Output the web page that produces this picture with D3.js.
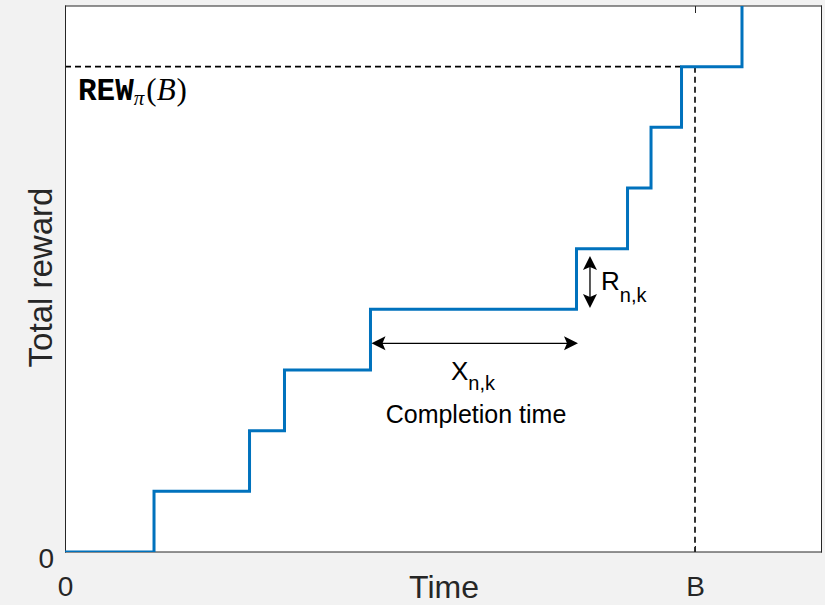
<!DOCTYPE html>
<html><head><meta charset="utf-8">
<script src="https://cdn.jsdelivr.net/npm/d3@7"></script>
<style>html,body{margin:0;padding:0;background:#f2f2f2;}svg{display:block;}</style>
</head><body>
<script>
// Data
const jumpTimes = [0, 14.13, 29.29, 34.84, 48.49, 81.19, 89.29, 93.02, 97.86, 107.46];
const rewardLevels = [0, 1, 2, 3, 4, 5, 6, 7, 8, 10];
const xTickValues = [0, 100];
const xTickLabels = ["0", "B"];
const yTickValues = [0];
const yTickLabels = ["0"];
const budgetB = 100;
const rewAtB = 8;
const xDomain = [0, 120];
const yDomain = [0, 9];

const W = 825, H = 605;
const svg = d3.select("body").append("svg").attr("width", W).attr("height", H);
svg.append("rect").attr("width", W).attr("height", H).attr("fill", "#f2f2f2");

const x = d3.scaleLinear().domain(xDomain).range([65, 821]);
const y = d3.scaleLinear().domain(yDomain).range([552, 6]);

svg.append("rect").attr("x", 65).attr("y", 6).attr("width", 756).attr("height", 546).attr("fill", "#fff");

const defs = svg.append("defs");
defs.append("clipPath").attr("id", "clip").append("rect")
  .attr("x", 65).attr("y", 6).attr("width", 756).attr("height", 546);

const txt = "#262626";
const sans = "'Liberation Sans', Arial, Helvetica, sans-serif";

// dashed guides
svg.append("line").attr("x1", x(0)).attr("x2", x(jumpTimes[8]))
  .attr("y1", y(rewAtB)).attr("y2", y(rewAtB))
  .attr("stroke", "#000").attr("stroke-width", 1.6).attr("stroke-dasharray", "6,4");
svg.append("line").attr("x1", x(budgetB)).attr("x2", x(budgetB))
  .attr("y1", y(rewAtB)).attr("y2", y(0))
  .attr("stroke", "#000").attr("stroke-width", 1.6).attr("stroke-dasharray", "6,4");

// axes box
const axisG = svg.append("g");
axisG.append("line").attr("x1", 65).attr("x2", 822).attr("y1", 6).attr("y2", 6).attr("stroke", txt).attr("stroke-width", 1);
axisG.append("line").attr("x1", 65).attr("x2", 822).attr("y1", 552).attr("y2", 552).attr("stroke", txt).attr("stroke-width", 1);
axisG.append("line").attr("x1", 65.5).attr("x2", 65.5).attr("y1", 5.5).attr("y2", 552.5).attr("stroke", txt).attr("stroke-width", 1);
axisG.append("line").attr("x1", 821.5).attr("x2", 821.5).attr("y1", 5.5).attr("y2", 552.5).attr("stroke", txt).attr("stroke-width", 1);

// ticks
xTickValues.forEach(v => {
  const px = Math.round(x(v)) + 0.5;
  axisG.append("line").attr("x1", px).attr("x2", px).attr("y1", 552).attr("y2", 546).attr("stroke", txt);
  axisG.append("line").attr("x1", px).attr("x2", px).attr("y1", 6).attr("y2", 13).attr("stroke", txt);
});
xTickValues.forEach((v, i) => {
  svg.append("text").attr("x", x(v) + 0.5).attr("y", 596).attr("text-anchor", "middle")
    .attr("font-family", sans).attr("font-size", 28).attr("fill", txt).text(xTickLabels[i]);
});
yTickValues.forEach((v, i) => {
  svg.append("text").attr("x", 54).attr("y", y(v) + 16).attr("text-anchor", "end")
    .attr("font-family", sans).attr("font-size", 28).attr("fill", txt).text(yTickLabels[i]);
});

// axis labels
svg.append("text").attr("x", 444).attr("y", 598).attr("text-anchor", "middle")
  .attr("font-family", sans).attr("font-size", 32).attr("fill", txt).text("Time");
svg.append("text").attr("transform", "translate(52,277.5) rotate(-90)").attr("text-anchor", "middle")
  .attr("font-family", sans).attr("font-size", 33).attr("fill", txt).text("Total reward");

// step line
const pts = jumpTimes.map((t, i) => [t, rewardLevels[i]]);
const line = d3.line().x(d => x(d[0])).y(d => y(d[1])).curve(d3.curveStepAfter);
svg.append("path").attr("d", line(pts)).attr("clip-path", "url(#clip)")
  .attr("fill", "none").attr("stroke", "#0072BD").attr("stroke-width", 3);

// arrows
function arrowHead(tipX, tipY, dirX, dirY) {
  const L = 14, Wd = 7;
  const bx = tipX - dirX * L, by = tipY - dirY * L;
  const px = -dirY, py = dirX;
  svg.append("path")
    .attr("d", `M${tipX},${tipY}L${bx + px * Wd},${by + py * Wd}L${bx + dirX * 3},${by + dirY * 3}L${bx - px * Wd},${by - py * Wd}Z`)
    .attr("fill", "#000");
}
// horizontal: completion time
const hy = y(3.44);
const hx1 = x(jumpTimes[4]) + 1, hx2 = x(jumpTimes[5]) + 1.5;
svg.append("line").attr("x1", hx1 + 4).attr("x2", hx2 - 4).attr("y1", hy).attr("y2", hy).attr("stroke", "#000").attr("stroke-width", 1.3);
arrowHead(hx1, hy, -1, 0);
arrowHead(hx2, hy, 1, 0);
// vertical: reward
const vx = x(83.33);
const vy1 = y(4.88), vy2 = y(4.02);
svg.append("line").attr("x1", vx).attr("x2", vx).attr("y1", vy1 + 4).attr("y2", vy2 - 4).attr("stroke", "#000").attr("stroke-width", 1.3);
arrowHead(vx, vy1, 0, -1);
arrowHead(vx, vy2, 0, 1);

// annotations
const xl = svg.append("text").attr("x", 451).attr("y", 380).attr("font-family", sans).attr("fill", "#000");
xl.append("tspan").attr("font-size", 26).text("X");
xl.append("tspan").attr("font-size", 20).attr("dy", 10).text("n,k");
svg.append("text").attr("x", 476).attr("y", 423).attr("text-anchor", "middle")
  .attr("font-family", sans).attr("font-size", 25).attr("fill", "#000").text("Completion time");
const rl = svg.append("text").attr("x", 601).attr("y", 290).attr("font-family", sans).attr("fill", "#000");
rl.append("tspan").attr("font-size", 26).text("R");
rl.append("tspan").attr("font-size", 20).attr("dy", 12).text("n,k");

const rew = svg.append("text").attr("x", 78).attr("y", 100).attr("fill", "#000");
rew.append("tspan").attr("font-family", "'Liberation Mono', 'Courier New', monospace").attr("font-weight", "bold").attr("font-size", 31).text("REW");
rew.append("tspan").attr("font-family", "'Liberation Serif', serif").attr("font-style", "italic").attr("font-size", 21).attr("dy", 5).text("π");
rew.append("tspan").attr("font-family", "'Liberation Serif', serif").attr("font-size", 31).attr("dy", -5).attr("dx", 2).text("(");
rew.append("tspan").attr("font-family", "'Liberation Serif', serif").attr("font-style", "italic").attr("font-size", 31).text("B");
rew.append("tspan").attr("font-family", "'Liberation Serif', serif").attr("font-size", 31).attr("dx", 1).text(")");
</script>
</body></html>
